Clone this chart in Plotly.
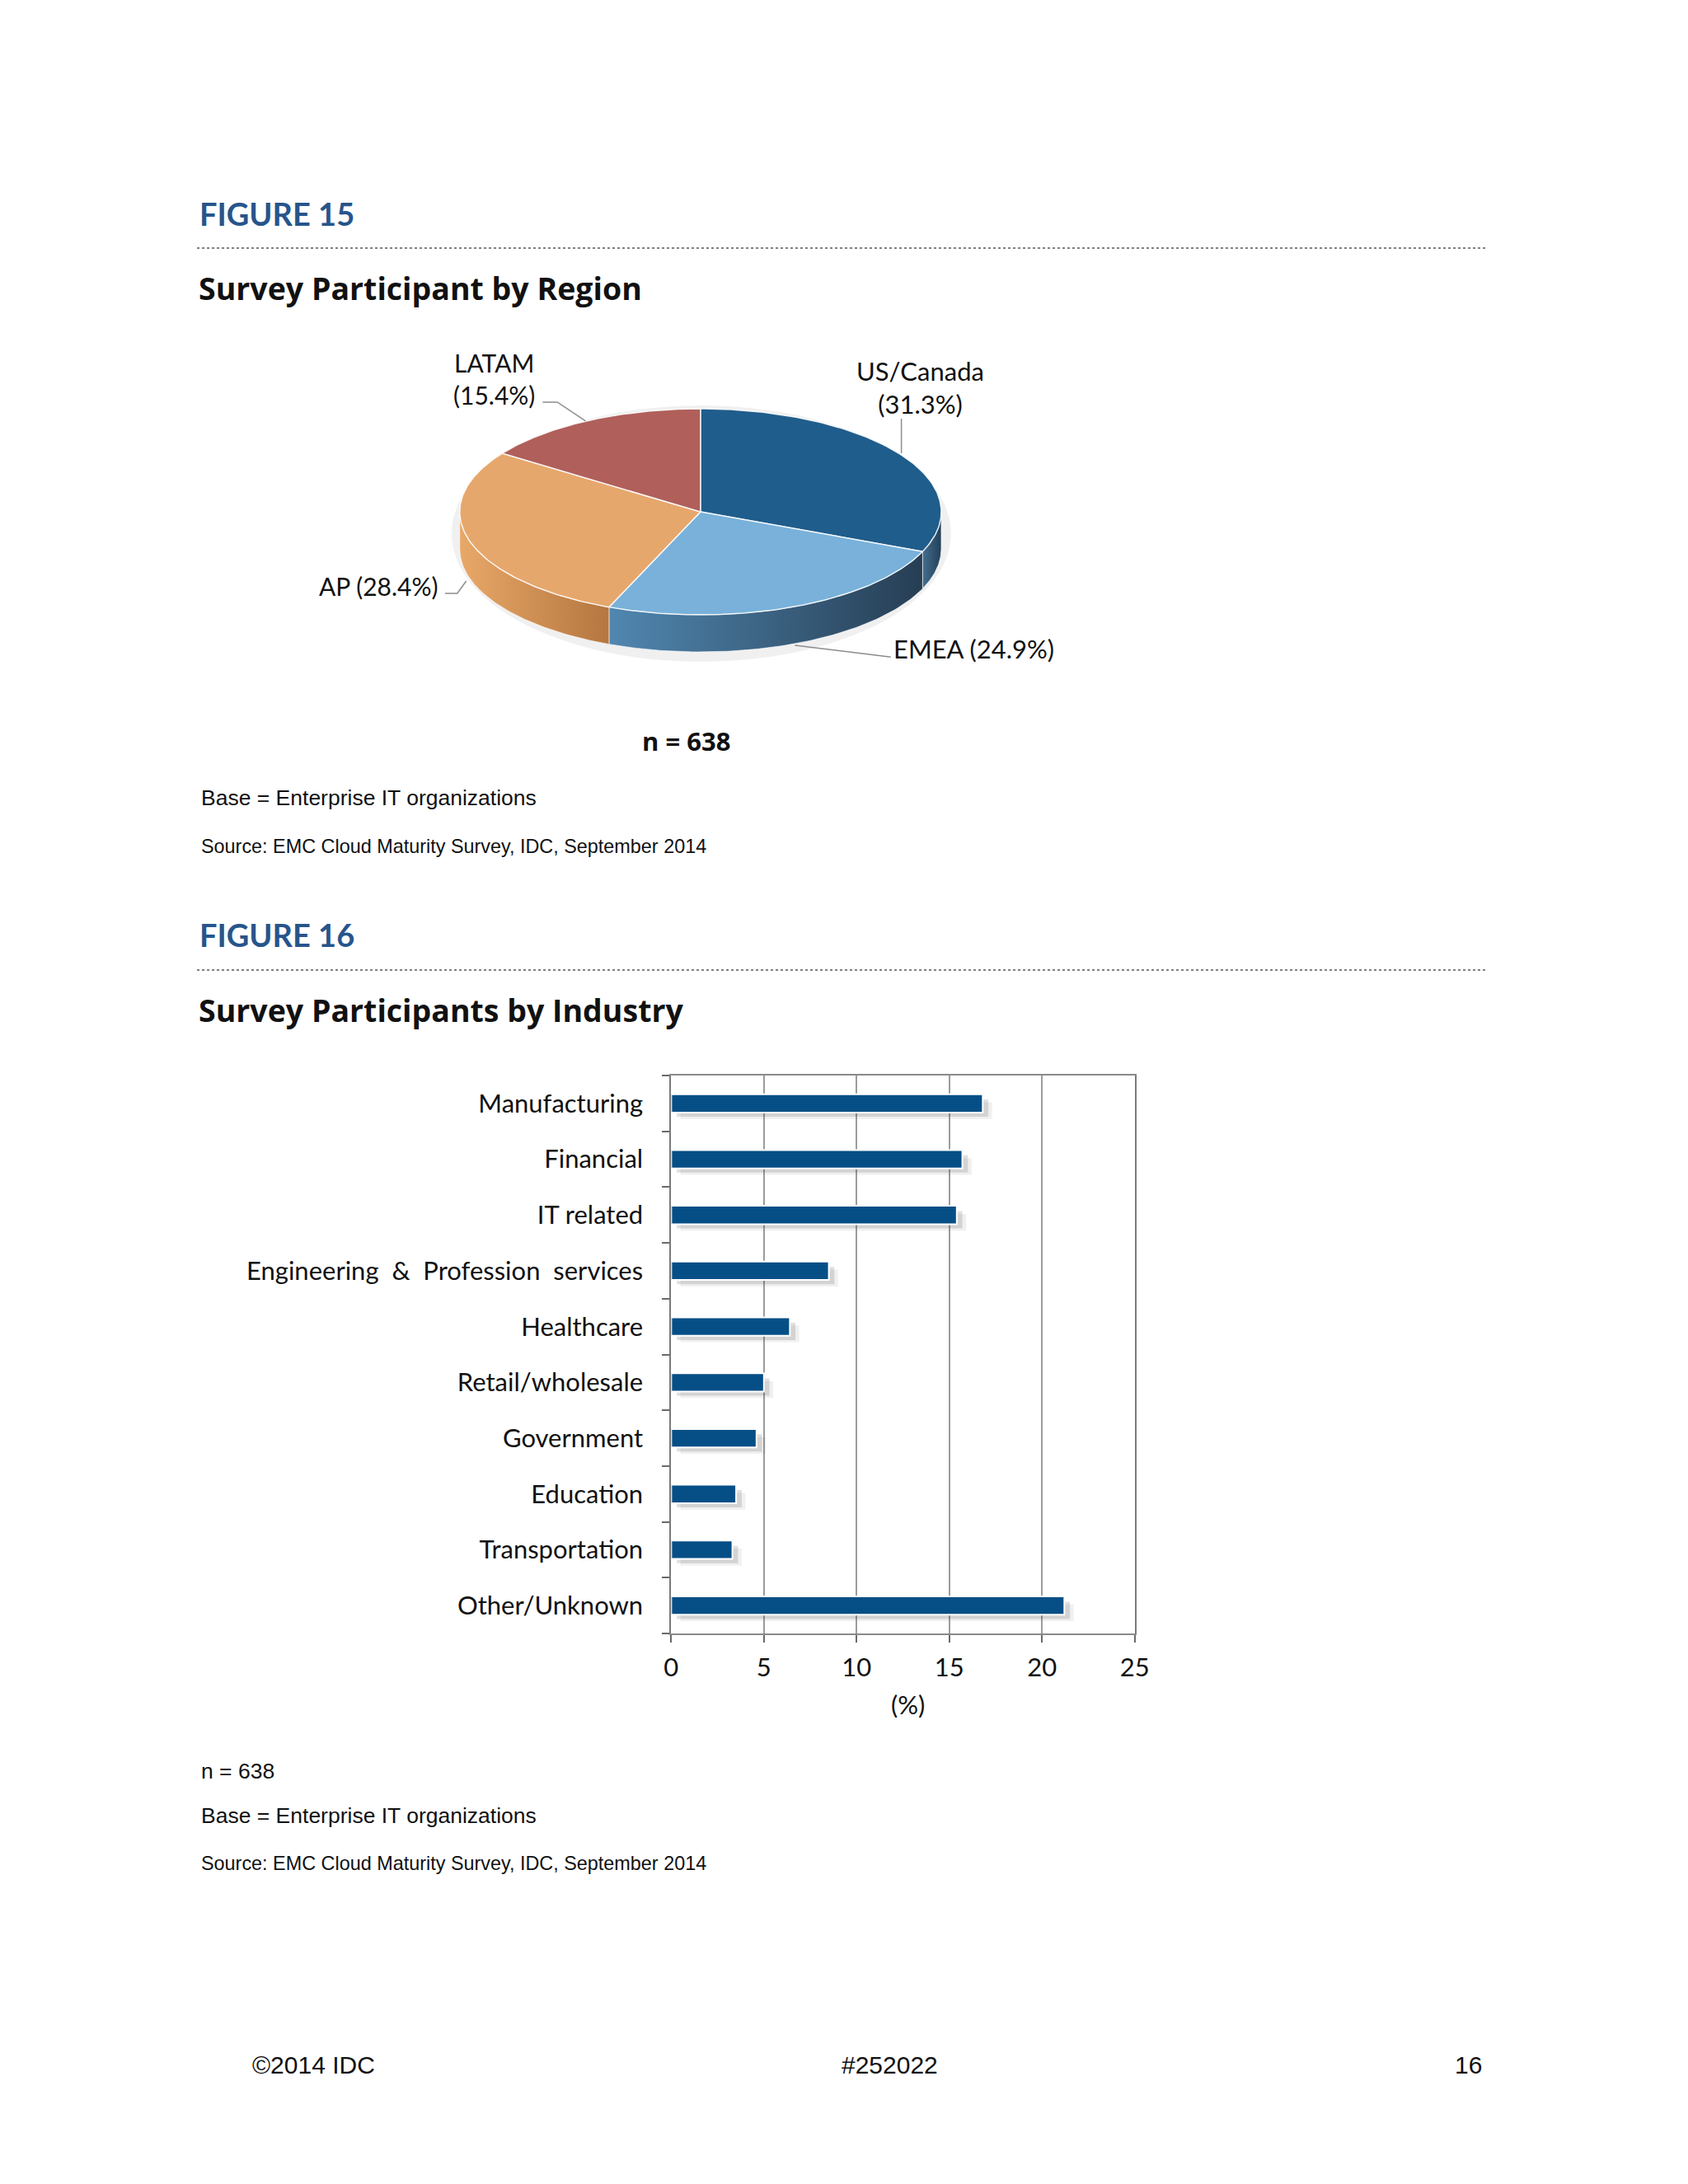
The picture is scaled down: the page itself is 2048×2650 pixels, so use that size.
import numpy as np
import plotly.graph_objects as go

W, H = 2048, 2650

# Figure 15 - region split
regions = ["US/Canada", "EMEA", "AP", "LATAM"]
region_share = [31.3, 24.9, 28.4, 15.4]
region_colors = ["#1f5d8c", "#79b1da", "#e6a76c", "#b05f5a"]
side_colors = [["#456e8f", "#223f58"], ["#5187b0", "#263e54"],
               ["#e8a868", "#b57640"], ["#9a4f4a", "#7a3c38"]]
n_resp = 638

# Figure 16 - industry split
industries = ["Manufacturing", "Financial", "IT related",
              "Engineering & Profession services", "Healthcare",
              "Retail/wholesale", "Government", "Education",
              "Transportation", "Other/Unknown"]
industry_share = [16.8, 15.7, 15.4, 8.5, 6.4, 5.0, 4.6, 3.5, 3.3, 21.2]
x_ticks = [0, 5, 10, 15, 20, 25]

HEAD = "Lato"
SUB = "Open Sans"
BODY = "Liberation Sans"
BLUE = "#27558b"
SHIFT = 8  # page body margin


def px(x):
    return (x - SHIFT) / W


def py(y):
    return 1 - (y - SHIFT) / H


fig = go.Figure()

# ---- pseudo-3d pie, drawn on its own pixel-scaled axes ----
pie_box = (502, 440, 1202, 840)  # left, top, right, bottom (px)
cx, cy, rx, ry, depth = 350, 181, 296, 125, 45


def ell(t, dy=0):
    r = np.radians(t)
    return cx + rx*np.cos(r), cy - ry*np.sin(r) + dy


angles = []
a0 = 90.0
for s in region_share:
    a1 = a0 - s*3.6
    angles.append((a0, a1))
    a0 = a1

# side walls (front half only)
for (a0, a1), sc, name in zip(angles, side_colors, regions):
    lo, hi = max(a1, -180), min(a0, 0)
    if lo >= hi:
        continue
    t = np.linspace(hi, lo, 80)
    xt, yt = ell(t)
    xb, yb = ell(t[::-1], depth)
    fig.add_trace(go.Scatter(
        x=np.concatenate([xt, xb, xt[:1]]), y=np.concatenate([yt, yb, yt[:1]]),
        mode="lines", fill="toself", line=dict(color="rgba(255,255,255,0.6)", width=1),
        fillgradient=dict(type="horizontal", colorscale=[[0, sc[0]], [1, sc[1]]]),
        xaxis="x2", yaxis="y2", hoverinfo="skip", showlegend=False))

# top faces
for (a0, a1), col, name in zip(angles, region_colors, regions):
    t = np.linspace(a0, a1, 120)
    xa, ya = ell(t)
    fig.add_trace(go.Scatter(
        x=np.concatenate([[cx], xa, [cx]]), y=np.concatenate([[cy], ya, [cy]]),
        mode="lines", fill="toself", fillcolor=col,
        line=dict(color="rgba(255,255,255,0.85)", width=1.5),
        xaxis="x2", yaxis="y2", name=name, hoverinfo="name", showlegend=False))

# ---- bar chart ----
tick_text = [c.replace(" ", "\u00a0\u00a0") if "&" in c else c for c in industries]

# soft drop shadow (two layers), then the bars
for base, off, wid, alpha in ((0.5, -0.02, 0.3, 0.08), (0.3, -0.07, 0.31, 0.16)):
    fig.add_trace(go.Bar(
        y=industries, x=industry_share, orientation="h", base=base,
        width=wid, offset=off,
        marker=dict(color=f"rgba(60,60,60,{alpha})", line=dict(width=0)),
        hoverinfo="skip", showlegend=False))
fig.add_trace(go.Bar(
    y=industries, x=industry_share, orientation="h",
    width=0.33, offset=-0.165,
    marker=dict(color="#064f86", line=dict(color="white", width=2)),
    showlegend=False))

fig.update_layout(
    width=W, height=H, margin=dict(l=0, r=0, t=0, b=0),
    paper_bgcolor="white", plot_bgcolor="rgba(0,0,0,0)",
    barmode="overlay",
    xaxis=dict(domain=[px(816), px(1386)], range=[0, 25], tickvals=x_ticks,
               showgrid=True, gridcolor="#9c9c9c", gridwidth=2, zeroline=False,
               showline=True, linecolor="#8a8a8a", linewidth=2, mirror=True,
               ticks="outside", ticklen=9, tickcolor="#6a6a6a", tickwidth=2,
               ticklabelstandoff=4,
               tickfont=dict(family=HEAD, size=31, color="#111")),
    yaxis=dict(domain=[py(1982), py(1305)], type="category",
               categoryorder="array", categoryarray=industries, autorange="reversed",
               tickvals=industries, ticktext=tick_text,
               tickson="boundaries", ticks="outside", ticklen=9, tickwidth=2,
               tickcolor="#6a6a6a", showline=True, linecolor="#7a7a7a", linewidth=2,
               mirror=True, showgrid=False, ticklabelstandoff=26,
               tickfont=dict(family=HEAD, size=31, color="#111")),
    xaxis2=dict(domain=[px(pie_box[0]), px(pie_box[2])], range=[0, 700],
                visible=False, fixedrange=True),
    yaxis2=dict(domain=[py(pie_box[3]), py(pie_box[1])], range=[400, 0],
                visible=False, fixedrange=True, anchor="x2"),
)

# faint halo under the pie
fig.add_shape(type="circle", xref="x2", yref="y2", layer="below",
              x0=cx-rx-10, x1=cx+rx+12, y0=cy-ry-4, y1=cy+ry+depth+12,
              fillcolor="rgba(0,0,0,0.06)", line=dict(width=0))

# separator lines
for y in (301, 1177):
    fig.add_shape(type="line", xref="paper", yref="paper",
                  x0=px(233), x1=px(1818), y0=py(y), y1=py(y),
                  line=dict(color="#555", width=1.5, dash="dot"))


def path(pts):
    return "M " + " L ".join(f"{px(x)},{py(y)}" for x, y in pts)


# pie leader lines
for pts in ([(658, 488), (676, 488), (711, 511)],
            [(1099, 508), (1099, 550)],
            [(538, 720), (553, 720), (564, 705)],
            [(968, 783), (1084, 797), (1086, 797)]):
    fig.add_shape(type="path", xref="paper", yref="paper", path=path(pts),
                  line=dict(color="#8c8c8c", width=1.5))


def note(text, x, y, size, family=BODY, color="#111", anchor="left", bold=False):
    if bold:
        text = f"<b>{text}</b>"
    fig.add_annotation(text=text, x=px(x), y=py(y), xref="paper", yref="paper",
                       showarrow=False, xanchor=anchor, yanchor="middle", align="center",
                       font=dict(family=family, size=size, color=color))


share = dict(zip(regions, region_share))
note("FIGURE 15", 234, 259, 38, HEAD, BLUE, bold=True)
note("Survey Participant by Region", 233, 349, 37.5, SUB, "#111", bold=True)
note(f"LATAM<br>({share['LATAM']}%)", 598, 459, 30, HEAD, anchor="center")
note(f"US/Canada<br>({share['US/Canada']}%)", 1122, 470, 31, HEAD, anchor="center")
note(f"AP ({share['AP']}%)", 532, 711, 30, HEAD, anchor="right")
note(f"EMEA ({share['EMEA']}%)", 1087, 787, 31, HEAD)
note(f"n = {n_resp}", 834, 899, 31, SUB, anchor="center", bold=True)
note("Base = Enterprise IT organizations", 236, 968, 26.5)
note("Source: EMC Cloud Maturity Survey, IDC, September 2014", 236, 1027, 23.4)

note("FIGURE 16", 234, 1134, 38, HEAD, BLUE, bold=True)
note("Survey Participants by Industry", 233, 1225, 37.5, SUB, "#111", bold=True)
note("(%)", 1107, 2068, 31, HEAD, anchor="center")
note(f"n = {n_resp}", 236, 2149, 26.5)
note("Base = Enterprise IT organizations", 236, 2203, 26.5)
note("Source: EMC Cloud Maturity Survey, IDC, September 2014", 236, 2261, 23.4)

note("©2014 IDC", 376, 2505, 30, anchor="center")
note("#252022", 1085, 2505, 30, anchor="center")
note("16", 1796, 2505, 30, anchor="center")

fig.write_html("out.html")
